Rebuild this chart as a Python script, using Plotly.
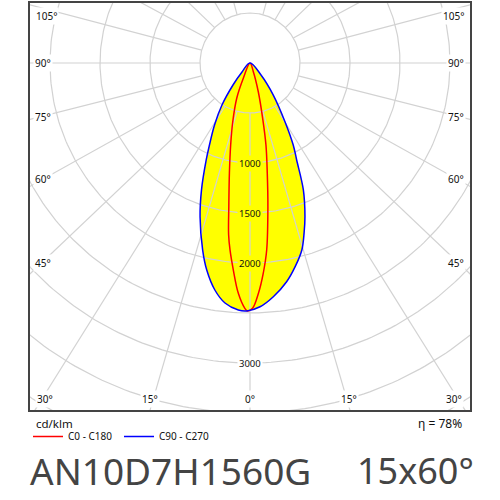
import numpy as np
import plotly.graph_objects as go

# Photometric values (angle from nadir in degrees, cd/klm)
c0_deg = [0.6, 1.2, 2.9, 4.6, 6.1, 7.1, 8.4, 10.6, 13.3, 16.4, 20.6, 23.6, 25]
c0_val = [2480, 2454, 2306, 2077, 1880, 1730, 1450, 1120, 840, 610, 377, 167, 0]
c180_deg = [21, 16.1, 12.9, 11.0, 8.9, 7.1, 5.1, 3.6, 2.1, 0.6]
c180_val = [93, 299, 567, 837, 1117, 1448, 1877, 2107, 2304, 2453]
c90_deg = [0.76, 2.7, 5.95, 8.8, 11.8, 14.2, 18, 20.9, 24.3, 26.3, 29.8, 33.7, 37.7, 41.6, 42]
c90_val = [2480, 2473, 2413, 2297, 2115, 1930, 1616, 1360, 1064, 915, 714, 505, 278, 120, 0]
c270_deg = [42.5, 36, 30.8, 27.8, 25.7, 22.8, 19.7, 17.7, 15.5, 12.5, 9.5, 5.7, 2.35]
c270_val = [163, 396, 683, 927, 1076, 1377, 1630, 1780, 1940, 2086, 2218, 2349, 2440]

ring_values = [500, 1000, 1500, 2000, 2500, 3000, 3500, 4000]
ring_labels = [1000, 1500, 2000, 3000]
spoke_angles = [0, 15, 30, 45, 60, 75, 90, 105, 120, 135, 150, 165]
spoke_outer = [0, 16.1, 31.8, 46.3, 60.8, 75.7, 90, 104.8, 118.5, 134, 149.5, 165]

angle_label_text = ["105°", "90°", "75°", "60°", "45°", "30°", "15°", "0°", "15°", "30°", "45°", "60°", "75°", "90°", "105°"]
angle_label_px = [(46, 16), (43, 63), (43, 117), (43, 179), (43, 263), (45, 399), (150, 399), (250, 399),
                  (349, 399), (454, 399), (456, 263), (456, 179), (456, 117), (456, 63), (453, 16)]

GRID = "#d2d2d2"
FONT = "Noto Sans"


def xy(deg, val, side):
    a = np.radians(np.asarray(deg, float))
    v = np.asarray(val, float)
    return side * v * np.sin(a), -v * np.cos(a)


def to_data(px, py):
    return (px - 250) * 10, (63 - py) * 10


x0, y0 = xy(c0_deg, c0_val, -1)
x180, y180 = xy(c180_deg, c180_val, 1)
x90, y90 = xy(c90_deg, c90_val, -1)
x270, y270 = xy(c270_deg, c270_val, 1)

red_x = np.r_[x0, x180, x0[0]]
red_y = np.r_[y0, y180, y0[0]]
blue_x = np.r_[x90, x270, x90[0]]
blue_y = np.r_[y90, y270, y90[0]]

SPL = dict(shape="spline", smoothing=1.0)

fig = go.Figure()
fig.add_trace(go.Scatter(x=blue_x, y=blue_y, mode="lines", fill="toself", fillcolor="#ffff00",
                         line=dict(width=0, **SPL), showlegend=False, hoverinfo="skip"))

t = np.radians(np.linspace(0, 360, 361))
for r in ring_values:
    fig.add_trace(go.Scatter(x=r * np.sin(t), y=r * np.cos(t), mode="lines",
                             line=dict(color=GRID, width=1.2), showlegend=False, hoverinfo="skip"))
for a, b in zip(spoke_angles, spoke_outer):
    for s in (-1, 1):
        if a == 0 and s == 1:
            continue
        xs = [s * 500 * np.sin(np.radians(a)), s * 4500 * np.sin(np.radians(b))]
        ys = [-500 * np.cos(np.radians(a)), -4500 * np.cos(np.radians(b))]
        fig.add_trace(go.Scatter(x=xs, y=ys, mode="lines", line=dict(color=GRID, width=1.2),
                                 showlegend=False, hoverinfo="skip"))

fig.add_trace(go.Scatter(x=red_x, y=red_y, mode="lines", name="C0 - C180",
                         line=dict(color="#ff0000", width=1.5, **SPL)))
fig.add_trace(go.Scatter(x=blue_x, y=blue_y, mode="lines", name="C90 - C270",
                         line=dict(color="#0000ff", width=1.5, **SPL)))

ann = []
for v in ring_labels:
    ann.append(dict(x=0, y=-v, text=str(v), xref="x", yref="y", showarrow=False,
                    font=dict(family=FONT, size=9.5, color="#111"),
                    bgcolor="#ffff00" if v < 2500 else "#ffffff", borderpad=1))
for txt, (px, py) in zip(angle_label_text, angle_label_px):
    dx, dy = to_data(px, py)
    ann.append(dict(x=dx, y=dy, text=txt, xref="x", yref="y", showarrow=False,
                    font=dict(family=FONT, size=10, color="#111"), bgcolor="#ffffff", borderpad=1))


def page(px, py, text, size, anchor="left", color="#111"):
    return dict(x=px / 500, y=1 - py / 500, xref="paper", yref="paper", text=text, showarrow=False,
                xanchor=anchor, yanchor="middle", font=dict(family=FONT, size=size, color=color))


ann += [page(34, 423, "cd/klm", 11.5), page(464, 423, "η = 78%", 12, "right"),
        page(28, 470, "AN10D7H1560G", 37, "left", "#444"), page(476, 470, "15x60°", 36, "right", "#444")]

fig.update_layout(
    width=500, height=500, margin=dict(l=0, r=0, t=0, b=0), paper_bgcolor="white", plot_bgcolor="white",
    xaxis=dict(domain=[30 / 500, 470 / 500], range=[-2200, 2200], showgrid=False, zeroline=False,
               showticklabels=False, ticks="", showline=True, mirror=True, linecolor="#444", linewidth=1.5),
    yaxis=dict(domain=[1 - 410 / 500, 1 - 3 / 500], range=[-3470, 600], showgrid=False, zeroline=False,
               showticklabels=False, ticks="", showline=True, mirror=True, linecolor="#444", linewidth=1.5),
    legend=dict(orientation="h", x=28 / 500, y=1 - 422 / 500, xanchor="left", yanchor="top",
                font=dict(family=FONT, size=10, color="#111"), bgcolor="rgba(0,0,0,0)",
                entrywidth=46, entrywidthmode="pixels", tracegroupgap=0),
    annotations=ann, showlegend=True,
)
fig.write_html("out.html", config=dict(displayModeBar=False),
               post_script="document.body.style.margin='0';")
